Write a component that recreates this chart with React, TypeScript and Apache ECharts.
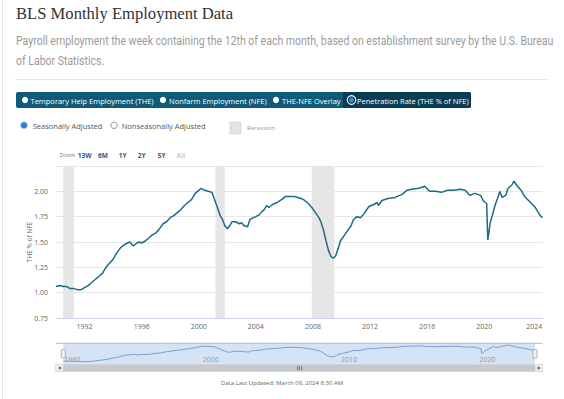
import { useEffect, useRef } from "react";
import * as echarts from "echarts";

// Decimal years (monthly positions) and THE % of NFE values
const dates = [
  1990.0, 1990.25, 1990.5, 1990.75, 1991.0, 1991.25, 1991.5, 1991.75,
  1992.0, 1992.25, 1992.5, 1992.75, 1993.0, 1993.25, 1993.5, 1993.75,
  1994.0, 1994.25, 1994.5, 1994.75, 1995.0, 1995.17, 1995.42, 1995.67, 1995.83,
  1996.0, 1996.25, 1996.5, 1996.75, 1997.0, 1997.25, 1997.5, 1997.75,
  1998.0, 1998.25, 1998.5, 1998.75, 1999.0, 1999.25, 1999.5, 1999.75,
  2000.0, 2000.17, 2000.42, 2000.67, 2000.92, 2001.08, 2001.33, 2001.5, 2001.67, 2001.83,
  2002.0, 2002.17, 2002.33, 2002.58, 2002.83, 2003.0, 2003.17, 2003.42, 2003.58, 2003.83,
  2004.0, 2004.25, 2004.42, 2004.58, 2004.75, 2004.92, 2005.17, 2005.5, 2005.83,
  2006.08, 2006.33, 2006.67, 2006.92, 2007.17, 2007.42, 2007.67, 2007.92,
  2008.17, 2008.42, 2008.58, 2008.75, 2008.92, 2009.08, 2009.25, 2009.42, 2009.58, 2009.75, 2009.92,
  2010.17, 2010.42, 2010.67, 2010.83, 2011.08, 2011.33, 2011.58, 2011.92,
  2012.25, 2012.5, 2012.58, 2012.83, 2013.25, 2013.75, 2014.25, 2014.58, 2014.92,
  2015.42, 2015.83, 2016.17, 2016.58, 2017.0, 2017.42, 2017.83, 2018.33, 2018.67,
  2019.0, 2019.33, 2019.75, 2019.92, 2020.08, 2020.17, 2020.25, 2020.42, 2020.58, 2020.75,
  2021.0, 2021.08, 2021.25, 2021.5, 2021.67, 2021.92, 2022.08, 2022.33, 2022.58, 2022.83,
  2023.17, 2023.58, 2023.92, 2024.08,
];
const values = [
  1.06, 1.07, 1.06, 1.06, 1.04, 1.04, 1.03, 1.03,
  1.05, 1.07, 1.1, 1.13, 1.16, 1.19, 1.25, 1.29,
  1.33, 1.39, 1.44, 1.47, 1.49, 1.5, 1.46, 1.49, 1.5,
  1.49, 1.51, 1.54, 1.57, 1.59, 1.63, 1.68, 1.7,
  1.74, 1.76, 1.79, 1.82, 1.86, 1.89, 1.92, 1.98,
  2.01, 2.03, 2.01, 2.0, 1.99, 1.93, 1.83, 1.76, 1.72, 1.66,
  1.63, 1.66, 1.7, 1.7, 1.68, 1.69, 1.66, 1.65, 1.72, 1.74,
  1.75, 1.77, 1.8, 1.82, 1.86, 1.84, 1.87, 1.89, 1.92,
  1.95, 1.95, 1.95, 1.94, 1.93, 1.91, 1.88, 1.84,
  1.79, 1.74, 1.69, 1.61, 1.51, 1.42, 1.36, 1.34, 1.36, 1.43, 1.51,
  1.56, 1.61, 1.66, 1.72, 1.75, 1.74, 1.78, 1.85,
  1.87, 1.89, 1.86, 1.91, 1.93, 1.94, 1.97, 2.01, 2.02,
  2.03, 2.05, 2.0, 2.0, 1.99, 2.01, 2.01, 2.02, 2.01,
  1.96, 1.98, 1.96, 1.91, 1.89, 1.88, 1.52, 1.69, 1.77, 1.86,
  1.96, 2.0, 1.94, 1.96, 2.03, 2.06, 2.1, 2.05, 2.01, 1.95,
  1.9, 1.84, 1.76, 1.74,
];
const recessionStarts = [1990.5, 2001.17, 2007.92];
const recessionEnds = [1991.25, 2001.83, 2009.5];
const tabLabels = [
  "Temporary Help Employment (THE)",
  "Nonfarm Employment (NFE)",
  "THE-NFE Overlay",
  "Penetration Rate (THE % of NFE)",
];
const zoomLabels = ["13W", "6M", "1Y", "2Y", "5Y", "All"];
const yTickLabels = ["0.75", "1.00", "1.25", "1.50", "1.75", "2.00"];

const FONT = "'Open Sans', sans-serif";

export default function App() {
  const ref = useRef<HTMLDivElement>(null);
  useEffect(() => {
    if (!ref.current) return;
    const chart = echarts.init(ref.current, undefined, { renderer: "svg" });
    const seriesData = dates.map((d, i) => [d, values[i]]);
    const tabX = [30.5, 169, 282, 357];
    const tabDotX = [25, 163, 276];
    const zoomX = [77.7, 98, 118.7, 137.7, 157.7, 176.7];

    const graphic: any[] = [
      { type: "line", shape: { x1: 2.5, y1: 0, x2: 2.5, y2: 399 }, style: { stroke: "#e6e6e6", lineWidth: 1 } },
      {
        type: "text", x: 16, y: 13.5,
        style: { text: "BLS Monthly Employment Data", font: "16.6px 'Liberation Serif', serif", fill: "#333", textVerticalAlign: "middle" },
      },
      {
        type: "text", x: 16, y: 40.5, scaleX: 0.81,
        style: { text: "Payroll employment the week containing the 12th of each month, based on establishment survey by the U.S. Bureau", font: "13px Roboto, sans-serif", fill: "#9b9b9b", textVerticalAlign: "middle" },
      },
      {
        type: "text", x: 16, y: 61, scaleX: 0.81,
        style: { text: "of Labor Statistics.", font: "13px Roboto, sans-serif", fill: "#9b9b9b", textVerticalAlign: "middle" },
      },
      { type: "line", shape: { x1: 15, y1: 79.5, x2: 548, y2: 79.5 }, style: { stroke: "#e8e8e8", lineWidth: 1 } },
      // tab bar
      { type: "rect", shape: { x: 16, y: 92, width: 455, height: 16, r: 2 }, style: { fill: "#0f5a78" } },
      { type: "rect", shape: { x: 343, y: 92, width: 128, height: 16, r: [0, 2, 2, 0] }, style: { fill: "#083c54" } },
      ...tabDotX.map((x) => ({ type: "circle", shape: { cx: x, cy: 100, r: 3.1 }, style: { fill: "#ffffff" } })),
      { type: "circle", shape: { cx: 351.5, cy: 100, r: 4.3 }, style: { fill: "#083c54", stroke: "#ffffff", lineWidth: 1.1 } },
      { type: "circle", shape: { cx: 351.5, cy: 100, r: 2.5 }, style: { fill: "#2f8ae8" } },
      ...tabLabels.map((t, i) => ({
        type: "text", x: tabX[i], y: 100.5,
        style: { text: t, font: `7.5px ${FONT}`, fill: "#ffffff", textVerticalAlign: "middle" },
      })),
      // seasonal radios
      { type: "circle", shape: { cx: 24, cy: 125.3, r: 3.6 }, style: { fill: "#2a7de1", stroke: "#cfe0f5", lineWidth: 1 } },
      { type: "text", x: 32.7, y: 125.5, style: { text: "Seasonally Adjusted", font: `7.5px ${FONT}`, fill: "#555", textVerticalAlign: "middle" } },
      { type: "circle", shape: { cx: 114, cy: 125.3, r: 3.2 }, style: { fill: "#fff", stroke: "#777", lineWidth: 0.8 } },
      { type: "text", x: 121.7, y: 125.5, style: { text: "Nonseasonally Adjusted", font: `7.5px ${FONT}`, fill: "#555", textVerticalAlign: "middle" } },
      { type: "rect", shape: { x: 230, y: 122, width: 11, height: 12, r: 1 }, style: { fill: "#e4e4e4", stroke: "#d4d4d4", lineWidth: 0.8 } },
      { type: "text", x: 247, y: 127.5, style: { text: "Recession", font: `6px ${FONT}`, fill: "#9a9a9a", textVerticalAlign: "middle" } },
      // zoom row
      { type: "text", x: 59.5, y: 155, style: { text: "Zoom", font: `5.8px ${FONT}`, fill: "#777", textVerticalAlign: "middle" } },
      ...zoomLabels.map((t, i) => ({
        type: "text", x: zoomX[i], y: 155,
        style: { text: t, font: `bold 6.5px ${FONT}`, fill: t === "All" ? "#cccccc" : "#2a5b8c", textVerticalAlign: "middle" },
      })),
      // y axis title
      {
        type: "text", x: 29.5, y: 242, rotation: Math.PI / 2,
        style: { text: "THE % of NFE", font: `6.5px ${FONT}`, fill: "#666", textAlign: "center", textVerticalAlign: "middle" },
      },
      // navigator outline
      { type: "line", shape: { x1: 56, y1: 343.3, x2: 542.5, y2: 343.3 }, style: { stroke: "#b8b8c0", lineWidth: 1 }, z: 10 },
      // scrollbar
      { type: "rect", shape: { x: 55.7, y: 364.3, width: 487, height: 7.4 }, style: { fill: "#f2f2f2" }, z: 10 },
      { type: "rect", shape: { x: 63.3, y: 364.3, width: 471.7, height: 7.4 }, style: { fill: "#c5cad0" }, z: 10 },
      { type: "rect", shape: { x: 55.7, y: 364.3, width: 7.6, height: 7.4 }, style: { fill: "#ebebeb", stroke: "#cccccc", lineWidth: 0.6 }, z: 10 },
      { type: "rect", shape: { x: 535, y: 364.3, width: 7.6, height: 7.4 }, style: { fill: "#ebebeb", stroke: "#cccccc", lineWidth: 0.6 }, z: 10 },
      { type: "polygon", shape: { points: [[58.3, 368], [60.6, 366.4], [60.6, 369.6]] }, style: { fill: "#333" }, z: 11 },
      { type: "polygon", shape: { points: [[540.2, 368], [537.9, 366.4], [537.9, 369.6]] }, style: { fill: "#333" }, z: 11 },
      ...[297.5, 299.5, 301.5].map((x) => ({
        type: "line", shape: { x1: x, y1: 366, x2: x, y2: 370 }, style: { stroke: "#333", lineWidth: 0.6 }, z: 11,
      })),
      // navigator handles
      { type: "rect", shape: { x: 61.3, y: 349.5, width: 4, height: 8.5, r: 0.5 }, style: { fill: "#f2f2f2", stroke: "#999", lineWidth: 0.7 }, z: 11 },
      { type: "rect", shape: { x: 533, y: 349.5, width: 4, height: 8.5, r: 0.5 }, style: { fill: "#f2f2f2", stroke: "#999", lineWidth: 0.7 }, z: 11 },
      {
        type: "text", x: 282, y: 383,
        style: { text: "Data Last Updated: March 08, 2024 8:30 AM", font: `6px ${FONT}`, fill: "#666", textAlign: "center", textVerticalAlign: "middle" },
      },
    ];

    const option: any = {
      animation: false,
      backgroundColor: "#ffffff",
      graphic,
      grid: [
        { left: 56, right: 21.5, top: 166, height: 152, containLabel: false },
        { left: 63.3, right: 29, top: 343.3, height: 21, show: true, backgroundColor: "#d6e3f5", borderWidth: 0 },
      ],
      xAxis: [
        {
          type: "value", gridIndex: 0, min: 1990, max: 2024.08, interval: 2,
          axisLine: { show: true, lineStyle: { color: "#ccd6eb" } },
          axisTick: { show: false },
          splitLine: { show: false },
          axisLabel: {
            color: "#666", fontSize: 7, fontFamily: FONT, margin: 5,
            formatter: (v: number) => {
              const r = Math.round(v);
              if (Math.abs(v - r) > 1e-6 || r % 4 !== 0) return "";
              return r === 2024 ? "{e|2024}" : String(r);
            },
            rich: { e: { color: "#666", fontSize: 7, fontFamily: FONT, padding: [0, 14, 0, 0] } },
          },
        },
        {
          type: "value", gridIndex: 1, min: 1990, max: 2024.08, interval: 10,
          axisLine: { show: false }, axisTick: { show: false }, splitLine: { show: false },
          axisLabel: {
            inside: true, align: "left", margin: 1, color: "#999", fontSize: 7, fontFamily: FONT, padding: [0, 0, 0, 1],
            formatter: (v: number) => (Math.abs(v - Math.round(v)) < 1e-6 && Math.round(v) % 10 === 0 ? String(Math.round(v)) : ""),
          },
        },
      ],
      yAxis: [
        {
          type: "value", gridIndex: 0, min: 0.75, max: 2.25, interval: 0.25,
          axisLine: { show: false }, axisTick: { show: false },
          splitLine: { show: true, lineStyle: { color: "#e6e6e6", width: 1 } },
          axisLabel: {
            color: "#666", fontSize: 7, fontFamily: FONT, margin: 8, padding: [0, 0, 6, 0],
            formatter: (v: number) => {
              const s = v.toFixed(2);
              return yTickLabels.indexOf(s) >= 0 ? s : "";
            },
          },
        },
        { type: "value", gridIndex: 1, min: 0.86, max: 2.21, show: false },
      ],
      series: [
        {
          type: "line", xAxisIndex: 0, yAxisIndex: 0, data: seriesData,
          showSymbol: false, symbol: "none", silent: true,
          lineStyle: { color: "#1e6a86", width: 1.5 },
          markArea: {
            silent: true,
            itemStyle: { color: "#e6e6e6" },
            data: recessionStarts.map((s, i) => [{ xAxis: s }, { xAxis: recessionEnds[i] }]),
          },
          z: 3,
        },
        {
          type: "line", xAxisIndex: 1, yAxisIndex: 1, data: seriesData,
          showSymbol: false, symbol: "none", silent: true,
          lineStyle: { color: "#7d9dcf", width: 1 },
        },
      ],
    };
    chart.setOption(option);
    return () => chart.dispose();
  }, []);
  return (
    <div
      ref={ref}
      style={{ position: "fixed", left: 0, top: 0, width: 564, height: 399, background: "#fff" }}
    />
  );
}
